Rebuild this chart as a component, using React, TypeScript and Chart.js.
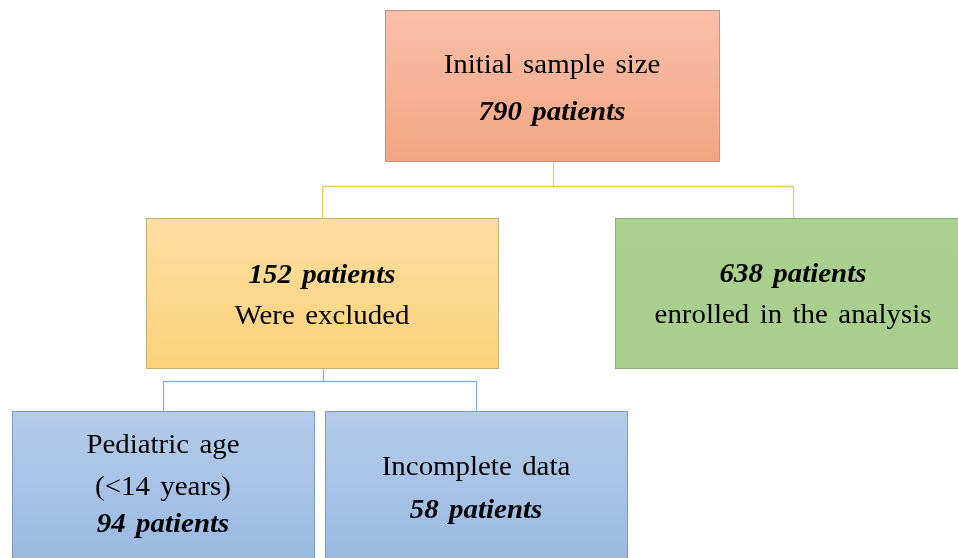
import React, { useEffect, useRef } from "react";
import { Chart, registerables } from "chart.js";

Chart.register(...registerables);

// ---- data ----
const nodeIds = ["initial", "excluded", "enrolled", "pediatric", "incomplete"];
const nodeCounts = [790, 152, 638, 94, 58];
const nodeTextBefore = [["Initial sample size"], [], [], ["Pediatric age", "(<14 years)"], ["Incomplete data"]];
const nodeTextAfter = [[], ["Were excluded"], ["enrolled in the analysis"], [], []];
const edgeParents = ["initial", "excluded"];
const edgeChildren = [["excluded", "enrolled"], ["pediatric", "incomplete"]];

// ---- layout (positions in scale units, 0..958 x 0..558) ----
const layout: Record<string, { x0: number; x1: number; y0: number; y1: number; base: number[] }> = {
  initial: { x0: 385.5, x1: 719.5, y0: 10.5, y1: 161.5, base: [73, 120] },
  excluded: { x0: 146.5, x1: 498.5, y0: 218.5, y1: 368.5, base: [283, 324] },
  enrolled: { x0: 615.5, x1: 962, y0: 218.5, y1: 368.5, base: [282, 323] },
  pediatric: { x0: 12.5, x1: 314.5, y0: 411.5, y1: 562, base: [453, 495, 532] },
  incomplete: { x0: 325.5, x1: 627.5, y0: 411.5, y1: 562, base: [475, 518] },
};
const textCenterX: Record<string, number> = { initial: 552, excluded: 322, enrolled: 793, pediatric: 163, incomplete: 476 };
const styles: Record<string, { top: string; bottom: string; border: string }> = {
  initial: { top: "#F8C0A8", bottom: "#F4A482", border: "#C8937C" },
  excluded: { top: "#FEDE9F", bottom: "#FCD27B", border: "#C9AC74" },
  enrolled: { top: "#A9D08E", bottom: "#A8CF8C", border: "#8AAE72" },
  pediatric: { top: "#B5CCEA", bottom: "#99B9E2", border: "#7F9CC3" },
  incomplete: { top: "#B5CCEA", bottom: "#99B9E2", border: "#7F9CC3" },
};
const edgeColors = ["#F9C74A", "#85B4E0"];
const edgeBusY = [186.5, 381.5];
const childAnchorX: Record<string, number> = { excluded: 322.5, enrolled: 793.5, pediatric: 163.5, incomplete: 476.5 };

const fontSize = 27;
const stretchX = 1.07;

const flowPlugin = {
  id: "flow",
  afterDraw(chart: any) {
    const ctx = chart.ctx as CanvasRenderingContext2D;
    const xs = chart.scales.x;
    const ys = chart.scales.y;
    const X = (v: number) => xs.getPixelForValue(v);
    const Y = (v: number) => ys.getPixelForValue(v);
    ctx.save();
    // connectors
    edgeParents.forEach((p, i) => {
      const pb = layout[p];
      const px = Math.round(X((pb.x0 + pb.x1) / 2)) + 0.5;
      const by = Y(edgeBusY[i]);
      ctx.strokeStyle = edgeColors[i];
      ctx.lineWidth = 1.3;
      ctx.beginPath();
      ctx.moveTo(px, Y(pb.y1));
      ctx.lineTo(px, by);
      const kids = edgeChildren[i];
      const kxs = kids.map((k) => X(childAnchorX[k]));
      ctx.moveTo(Math.min(...kxs), by);
      ctx.lineTo(Math.max(...kxs), by);
      kids.forEach((k, j) => {
        ctx.moveTo(kxs[j], by);
        ctx.lineTo(kxs[j], Y(layout[k].y0));
      });
      ctx.stroke();
    });
    // boxes
    nodeIds.forEach((id, i) => {
      const b = layout[id];
      const s = styles[id];
      const x0 = X(b.x0), x1 = X(b.x1), y0 = Y(b.y0), y1 = Y(b.y1);
      const g = ctx.createLinearGradient(0, y0, 0, y1);
      g.addColorStop(0, s.top);
      g.addColorStop(1, s.bottom);
      ctx.fillStyle = g;
      ctx.fillRect(x0, y0, x1 - x0, y1 - y0);
      ctx.strokeStyle = s.border;
      ctx.lineWidth = 1;
      ctx.strokeRect(x0, y0, x1 - x0, y1 - y0);
      const lines: { t: string; bold: boolean }[] = [
        ...nodeTextBefore[i].map((t) => ({ t, bold: false })),
        { t: `${nodeCounts[i]} patients`, bold: true },
        ...nodeTextAfter[i].map((t) => ({ t, bold: false })),
      ];
      const cx = X(textCenterX[id]);
      ctx.fillStyle = "#000";
      ctx.textAlign = "center";
      ctx.textBaseline = "alphabetic";
      lines.forEach((ln, k) => {
        ctx.save();
        ctx.font = `${ln.bold ? "italic bold " : ""}${fontSize}px "Liberation Serif", "Times New Roman", serif`;
        (ctx as any).wordSpacing = "3px";
        ctx.translate(cx, Y(b.base[k]));
        ctx.scale(stretchX, 1);
        ctx.fillText(ln.t, 0, 0);
        ctx.restore();
      });
    });
    ctx.restore();
  },
};

export default function App() {
  const ref = useRef<HTMLCanvasElement>(null);
  useEffect(() => {
    if (!ref.current) return;
    const chart = new Chart(ref.current, {
      type: "scatter",
      data: { datasets: [{ data: [], showLine: false }] },
      options: {
        animation: false,
        responsive: false,
        maintainAspectRatio: false,
        layout: { padding: 0 },
        plugins: { legend: { display: false }, tooltip: { enabled: false } },
        scales: {
          x: { type: "linear", min: 0, max: 958, display: false },
          y: { type: "linear", min: 0, max: 558, reverse: true, display: false },
        },
      },
      plugins: [flowPlugin],
    });
    return () => chart.destroy();
  }, []);
  return (
    <div style={{ position: "absolute", left: 0, top: 0, width: 958, height: 558, background: "#fff" }}>
      <canvas ref={ref} width={958} height={558} style={{ width: 958, height: 558, display: "block" }} />
    </div>
  );
}
